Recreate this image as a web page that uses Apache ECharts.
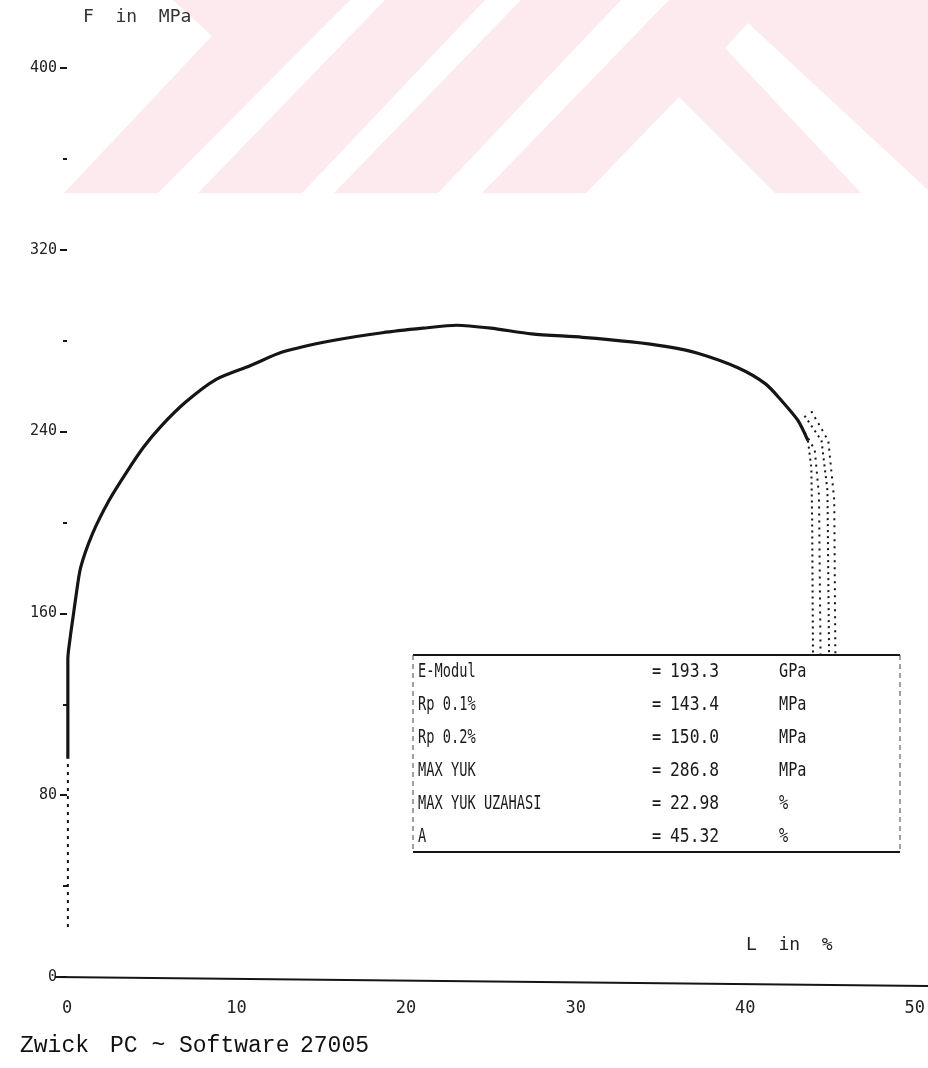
<!DOCTYPE html>
<html>
<head>
<meta charset="utf-8">
<script src="https://cdn.jsdelivr.net/npm/echarts@6/dist/echarts.min.js"></script>
<style>
  html, body { margin: 0; padding: 0; background: #ffffff; }
  #chart { width: 928px; height: 1068px; }
</style>
</head>
<body>
<div id="chart"></div>
<script>
// Tensile test record: stress F (MPa) against elongation L (%)

// Main stress-strain trace
const curveStrain = [0.05, 0.05, 0.2, 0.35, 0.5, 0.8, 1.5, 2.5, 3.5, 4.5, 5.5, 7.0, 8.8, 10.8, 12.7,
                     15.6, 18.6, 21.0, 22.98, 25.0, 27.4, 30.4, 33.3, 35.3, 37.2, 39.6, 41.2, 42.1, 43.1, 43.7];
const curveStress = [96, 140, 150, 158, 166, 180, 195, 210, 222, 233, 242, 253, 263, 269, 275,
                     280, 283.5, 285.5, 286.8, 285.5, 283, 281.5, 279.5, 277.5, 274.5, 268, 261, 254, 245, 236];

// Lower part of the elastic rise, plotted dotted
const elasticStrain = [0.05, 0.05];
const elasticStress = [22, 96];

// Fracture traces falling away after necking
const fracture1Strain = [43.7, 43.9, 43.95, 44.0];
const fracture1Stress = [236, 224, 200, 138];
const fracture2Strain = [43.1, 44.1, 44.35, 44.45];
const fracture2Stress = [245, 232, 212, 138];
const fracture3Strain = [43.5, 44.5, 44.85, 44.95];
const fracture3Stress = [247, 236, 214, 138];
const fracture4Strain = [43.9, 44.9, 45.25, 45.32];
const fracture4Stress = [249, 236, 210, 138];

// Axis ticks
const xTicks = [0, 10, 20, 30, 40, 50];
const yTicks = [0, 80, 160, 240, 320, 400];

// Result table
const resultNames  = ['E-Modul', 'Rp 0.1%', 'Rp 0.2%', 'MAX YUK', 'MAX YUK UZAHASI', 'A'];
const resultValues = ['193.3', '143.4', '150.0', '286.8', '22.98', '45.32'];
const resultUnits  = ['GPa', 'MPa', 'MPa', 'MPa', '%', '%'];

const zip = (xs, ys) => xs.map((x, i) => [x, ys[i]]);
const INK = '#151515';
const PLOT_FONT = '"DejaVu Sans Mono", monospace';

const chart = echarts.init(document.getElementById('chart'), null, { renderer: 'canvas' });

function lineSeries(name, xs, ys, width, type, smooth) {
  return {
    name, type: 'line', data: zip(xs, ys), showSymbol: false, smooth: smooth || false,
    lineStyle: { color: INK, width, type: type || 'solid' }, z: 3, silent: true
  };
}

const option = {
  backgroundColor: '#ffffff',
  animation: false,
  grid: { left: 67, right: 11, top: 68, bottom: 91, containLabel: false },
  xAxis: {
    type: 'value', min: xTicks[0], max: xTicks[xTicks.length - 1], interval: 10,
    axisLine: { show: false },
    axisTick: { show: false },
    splitLine: { show: false },
    axisLabel: { color: '#222', fontFamily: PLOT_FONT, fontSize: 17, margin: 23 }
  },
  yAxis: {
    type: 'value', min: yTicks[0], max: yTicks[yTicks.length - 1], interval: 80,
    axisLine: { show: false },
    axisTick: { show: true, length: 7, lineStyle: { color: INK, width: 2 } },
    minorTick: { show: true, splitNumber: 2, length: 4, lineStyle: { color: INK, width: 2 } },
    splitLine: { show: false },
    axisLabel: { color: '#222', fontFamily: PLOT_FONT, fontSize: 15, margin: 10 }
  },
  series: [
    lineSeries('elastic', elasticStrain, elasticStress, 2, [3, 5]),
    lineSeries('curve', curveStrain, curveStress, 3.2, 'solid', 0.25),
    lineSeries('fracture1', fracture1Strain, fracture1Stress, 2, [2, 4]),
    lineSeries('fracture2', fracture2Strain, fracture2Stress, 2, [2, 5]),
    lineSeries('fracture3', fracture3Strain, fracture3Stress, 2, [2, 4]),
    lineSeries('fracture4', fracture4Strain, fracture4Stress, 2, [2, 5])
  ]
};
chart.setOption(option);

// Decorations placed relative to the plotting area
const origin = chart.convertToPixel({ gridIndex: 0 }, [0, 0]);
const pink = '#fdeaee';
const watermark = [
  [[173, 0], [350, 0], [158, 193], [64, 193], [212, 36]],
  [[385, 0], [485, 0], [302, 193], [198, 193]],
  [[521, 0], [621, 0], [438, 193], [334, 193]],
  [[482, 193], [669, 0], [928, 0], [928, 190], [748, 23], [725, 48], [861, 193], [775, 193], [679, 97], [586, 193]]
].map(pts => ({ type: 'polygon', shape: { points: pts }, style: { fill: pink }, z: -10, silent: true }));

const box = { left: 413, right: 900, top: 655, bottom: 852 };
const rowH = (box.bottom - box.top) / 6;
const tableText = [];
resultNames.forEach((n, i) => {
  const cy = box.top + rowH * (i + 0.5) + 1;
  const mk = (txt, x, sx) => ({
    type: 'text', x, y: cy, scaleX: sx, z: 101, silent: true,
    style: { text: txt, x: 0, y: 0, fill: '#1a1a1a', font: '19px ' + PLOT_FONT, textVerticalAlign: 'middle' }
  });
  tableText.push(mk(resultNames[i], box.left + 5, 0.72));
  tableText.push(mk('=', 652, 0.8));
  tableText.push(mk(resultValues[i], 670, 0.86));
  tableText.push(mk(resultUnits[i], 779, 0.8));
});

chart.setOption({
  graphic: [
    ...watermark,
    // axis titles
    { type: 'text', left: 83, top: 8, silent: true,
      style: { text: 'F  in  MPa', fill: '#333', font: '18px ' + PLOT_FONT } },
    { type: 'text', x: 746, y: origin[1] - 32, silent: true,
      style: { text: 'L  in  %', fill: '#222', font: '18px ' + PLOT_FONT, textVerticalAlign: 'middle' } },
    // stress zero line
    { type: 'line', silent: true, z: 5,
      shape: { x1: 55, y1: origin[1], x2: 928, y2: origin[1] + 9 },
      style: { stroke: INK, lineWidth: 2 } },
    // result table
    { type: 'rect', silent: true, z: 100,
      shape: { x: box.left, y: box.top, width: box.right - box.left, height: box.bottom - box.top },
      style: { fill: '#ffffff', stroke: null } },
    { type: 'line', silent: true, z: 102, shape: { x1: box.left, y1: box.top, x2: box.right, y2: box.top },
      style: { stroke: INK, lineWidth: 2 } },
    { type: 'line', silent: true, z: 102, shape: { x1: box.left, y1: box.bottom, x2: box.right, y2: box.bottom },
      style: { stroke: INK, lineWidth: 2 } },
    { type: 'line', silent: true, z: 102, shape: { x1: box.left, y1: box.top, x2: box.left, y2: box.bottom },
      style: { stroke: '#444', lineWidth: 1, lineDash: [5, 4] } },
    { type: 'line', silent: true, z: 102, shape: { x1: box.right, y1: box.top, x2: box.right, y2: box.bottom },
      style: { stroke: '#444', lineWidth: 1, lineDash: [5, 4] } },
    ...tableText,
    // printer footer
    { type: 'text', x: 20, y: 1046, silent: true,
      style: { text: 'Zwick', fill: '#111', font: '23px "Liberation Mono", monospace', textVerticalAlign: 'middle' } },
    { type: 'text', x: 110, y: 1046, silent: true,
      style: { text: 'PC ~ Software', fill: '#111', font: '23px "Liberation Mono", monospace', textVerticalAlign: 'middle' } },
    { type: 'text', x: 300, y: 1046, silent: true,
      style: { text: '27005', fill: '#111', font: '23px "Liberation Mono", monospace', textVerticalAlign: 'middle' } }
  ]
});
</script>
</body>
</html>
